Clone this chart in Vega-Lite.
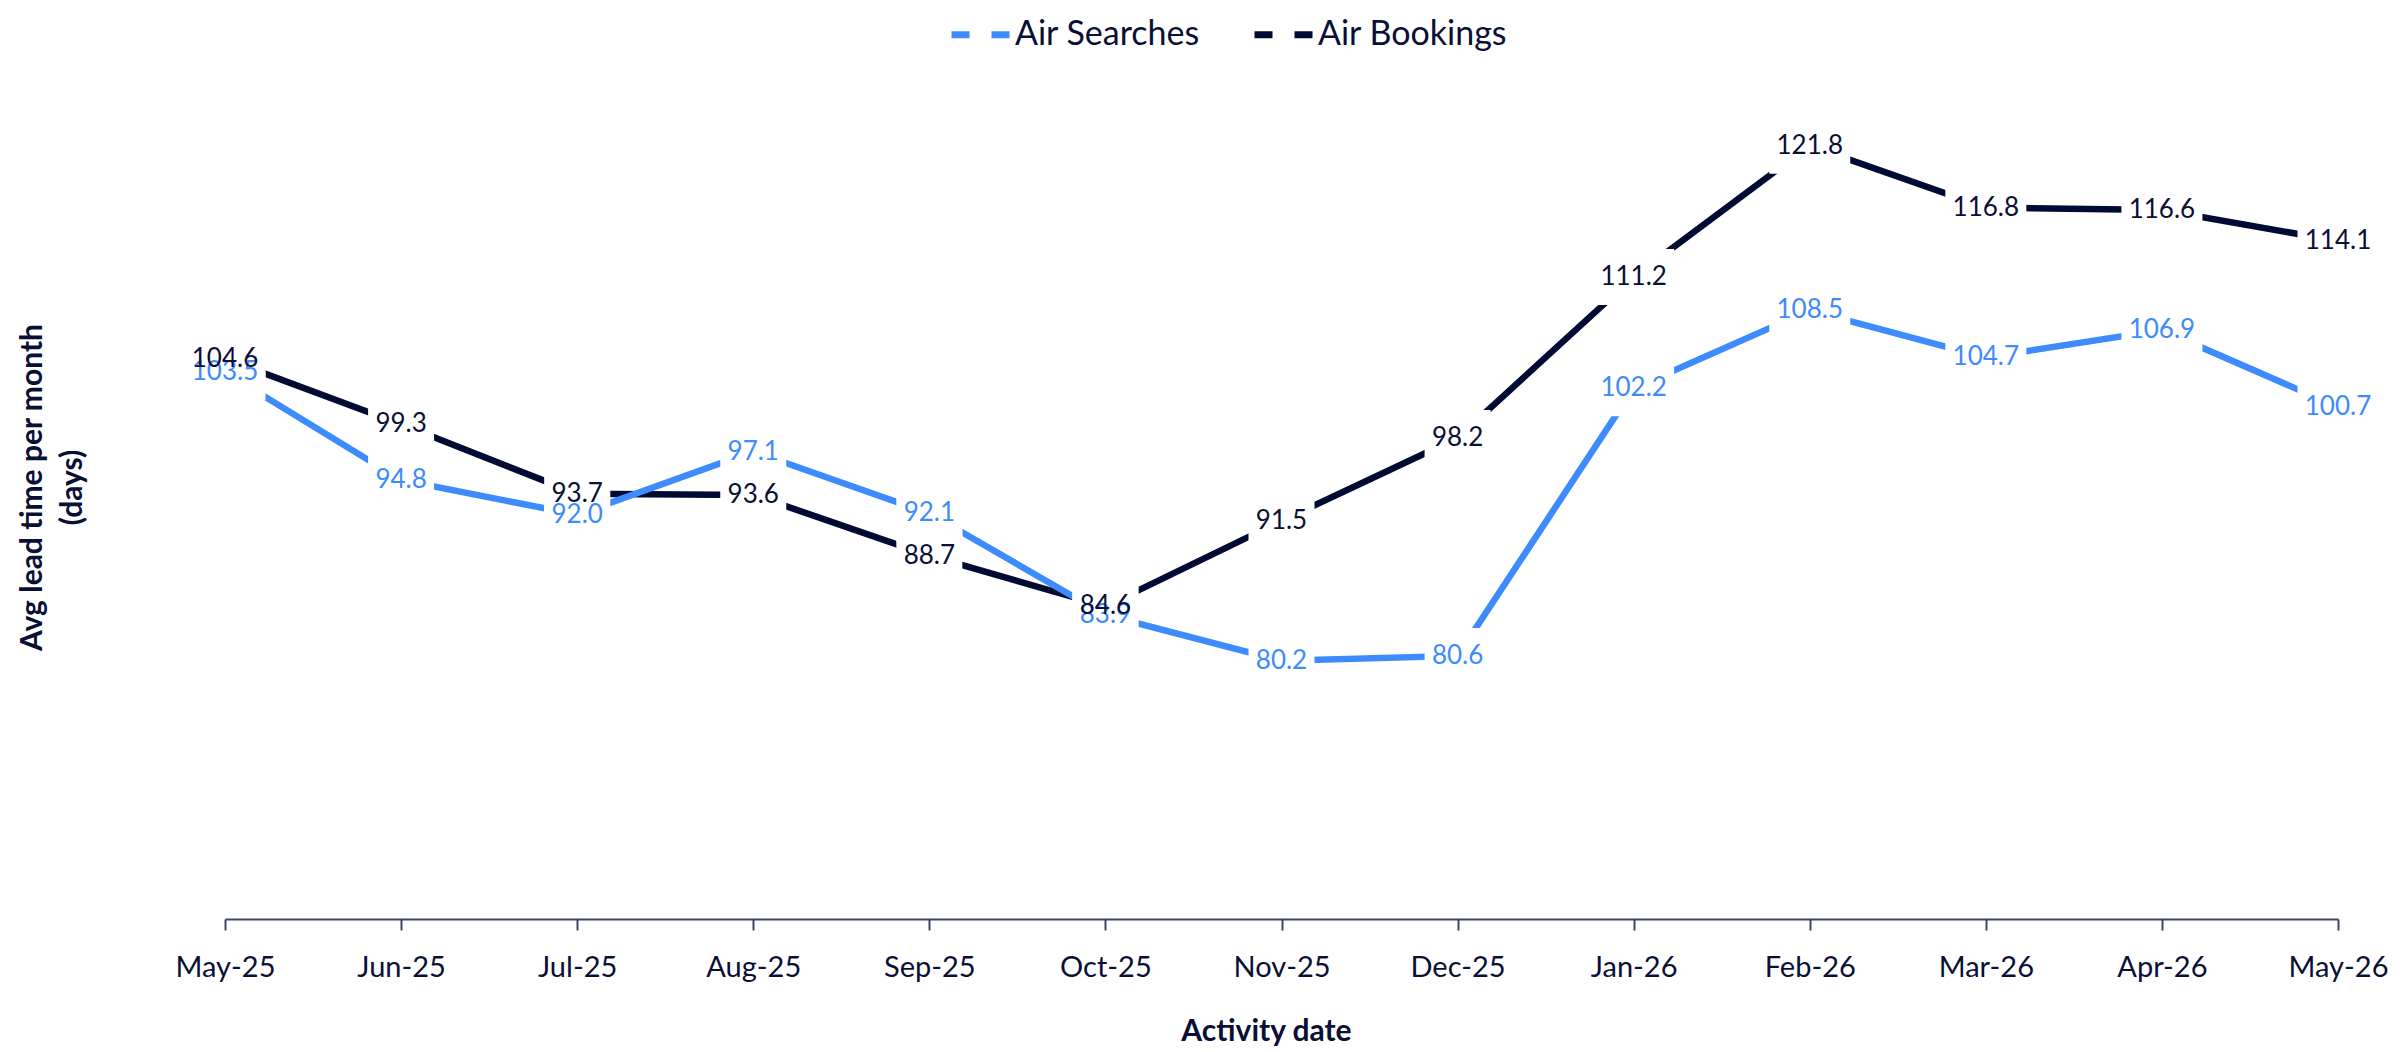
{
  "$schema": "https://vega.github.io/schema/vega-lite/v6.json",
  "width": 2113,
  "height": 805,
  "autosize": {"type": "none"},
  "padding": {"left": 225, "top": 106, "right": 69, "bottom": 141},
  "background": "white",
  "config": {"view": {"stroke": null}, "font": "Lato"},
  "data": {
    "values": [
      {"month": "May-25", "series": "Air Searches", "value": 103.5},
      {"month": "Jun-25", "series": "Air Searches", "value": 94.8},
      {"month": "Jul-25", "series": "Air Searches", "value": 92.0},
      {"month": "Aug-25", "series": "Air Searches", "value": 97.1},
      {"month": "Sep-25", "series": "Air Searches", "value": 92.1},
      {"month": "Oct-25", "series": "Air Searches", "value": 83.9},
      {"month": "Nov-25", "series": "Air Searches", "value": 80.2},
      {"month": "Dec-25", "series": "Air Searches", "value": 80.6},
      {"month": "Jan-26", "series": "Air Searches", "value": 102.2},
      {"month": "Feb-26", "series": "Air Searches", "value": 108.5},
      {"month": "Mar-26", "series": "Air Searches", "value": 104.7},
      {"month": "Apr-26", "series": "Air Searches", "value": 106.9},
      {"month": "May-26", "series": "Air Searches", "value": 100.7},
      {"month": "May-25", "series": "Air Bookings", "value": 104.6},
      {"month": "Jun-25", "series": "Air Bookings", "value": 99.3},
      {"month": "Jul-25", "series": "Air Bookings", "value": 93.7},
      {"month": "Aug-25", "series": "Air Bookings", "value": 93.6},
      {"month": "Sep-25", "series": "Air Bookings", "value": 88.7},
      {"month": "Oct-25", "series": "Air Bookings", "value": 84.6},
      {"month": "Nov-25", "series": "Air Bookings", "value": 91.5},
      {"month": "Dec-25", "series": "Air Bookings", "value": 98.2},
      {"month": "Jan-26", "series": "Air Bookings", "value": 111.2},
      {"month": "Feb-26", "series": "Air Bookings", "value": 121.8},
      {"month": "Mar-26", "series": "Air Bookings", "value": 116.8},
      {"month": "Apr-26", "series": "Air Bookings", "value": 116.6},
      {"month": "May-26", "series": "Air Bookings", "value": 114.1}
    ]
  },
  "encoding": {
    "x": {
      "field": "month",
      "type": "ordinal",
      "sort": null,
      "scale": {"type": "point", "padding": 0},
      "axis": {
        "title": "Activity date",
        "labelAngle": 0,
        "labelFont": "Lato",
        "labelFontSize": 29,
        "labelColor": "#0a0f35",
        "labelPadding": 23,
        "tickSize": 11,
        "tickWidth": 2,
        "tickColor": "#3d4466",
        "domainColor": "#3d4466",
        "domainWidth": 2,
        "grid": false,
        "offset": 8,
        "titleFont": "Lato",
        "titleFontSize": 30,
        "titleFontWeight": "bold",
        "titleColor": "#0a0f35",
        "titleX": 1041,
        "titleY": 112,
        "titleBaseline": "middle"
      }
    },
    "y": {
      "field": "value",
      "type": "quantitative",
      "scale": {"domain": [60, 125], "nice": false, "zero": false},
      "axis": {
        "title": ["Avg lead time per month", "(days)"],
        "labels": false,
        "ticks": false,
        "domain": false,
        "grid": false,
        "titleFont": "Lato",
        "titleFontSize": 30,
        "titleFontWeight": "bold",
        "titleColor": "#0a0f35",
        "titleX": -193,
        "titleY": 381,
        "titleAngle": -90,
        "titleAlign": "center",
        "titleBaseline": "middle",
        "titleLineHeight": 40
      }
    }
  },
  "layer": [
    {
      "transform": [{"filter": "datum.series === 'Air Bookings'"}],
      "mark": {"type": "line", "strokeWidth": 6.5},
      "encoding": {
        "color": {
          "field": "series",
          "type": "nominal",
          "scale": {"domain": ["Air Searches", "Air Bookings"], "range": ["#3d8bfd", "#000a33"]},
          "legend": {
            "orient": "none",
            "legendX": 723,
            "legendY": -104,
            "direction": "horizontal",
            "title": null,
            "symbolType": "stroke",
            "symbolStrokeWidth": 7,
            "symbolSize": 3364,
            "symbolDash": [18, 22],
            "labelFont": "Lato",
            "labelFontSize": 34,
            "labelColor": "#0a0f35",
            "labelLimit": 0,
            "labelOffset": 2,
            "columnPadding": 40,
            "padding": 0
          }
        }
      }
    },
    {
      "transform": [{"filter": "datum.series === 'Air Searches'"}],
      "mark": {"type": "line", "strokeWidth": 6.5},
      "encoding": {
        "color": {"field": "series", "type": "nominal"}
      }
    },
    {
      "mark": {
        "type": "rect",
        "fill": "white",
        "width": {"expr": "length(format(datum.value, '.1f')) * 15 + 6"},
        "height": 56
      }
    },
    {
      "transform": [{"filter": "datum.series === 'Air Searches'"}],
      "mark": {"type": "text", "font": "Lato", "fontSize": 26, "align": "center", "baseline": "middle", "color": "#3d8bfd"},
      "encoding": {"text": {"field": "value", "type": "quantitative", "format": ".1f"}}
    },
    {
      "transform": [{"filter": "datum.series === 'Air Bookings'"}],
      "mark": {"type": "text", "font": "Lato", "fontSize": 26, "align": "center", "baseline": "middle", "color": "#0a0f35"},
      "encoding": {"text": {"field": "value", "type": "quantitative", "format": ".1f"}}
    }
  ]
}
